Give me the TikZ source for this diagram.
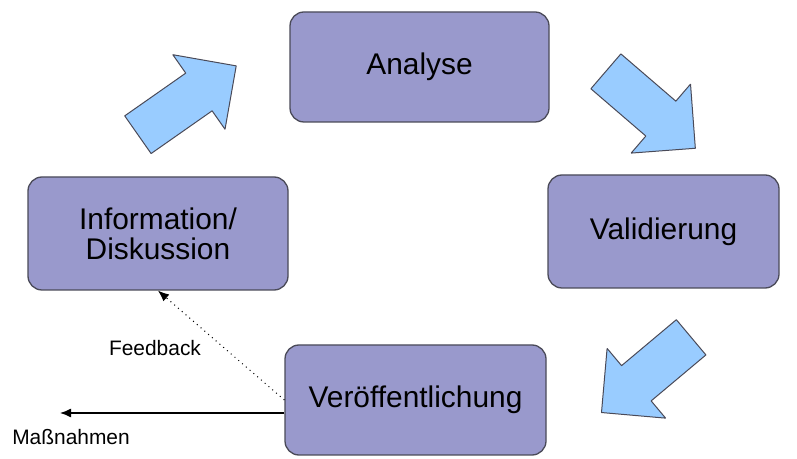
\documentclass[tikz,border=0pt]{standalone}
\usepackage{fontspec}
\setmainfont{Liberation Sans}
\usepackage{tikz}
\usetikzlibrary{arrows,arrows.meta,shapes}

\definecolor{boxfill}{HTML}{9999CC}
\definecolor{arrowfill}{HTML}{99CCFF}
\definecolor{edgecol}{HTML}{4A4A58}

\begin{document}
\begin{tikzpicture}[>={Latex[length=11bp,width=9bp]},line join=bevel,
    phase/.style={draw=edgecol,line width=1.3bp,fill=boxfill,rounded corners=14bp,align=center,font=\fontsize{30}{30}\selectfont},
    flow/.style={draw=edgecol,line width=1bp,fill=arrowfill,single arrow,inner sep=22.5bp,single arrow head extend=22.5bp},
    lbl/.style={font=\fontsize{21}{24}\selectfont}]
		%%
		\useasboundingbox (0bp,0bp) rectangle (797bp,459bp);
		\node (ana) at (419.5bp,392bp) [phase,minimum width=259bp,minimum height=110bp] {Analyse};
		  \node (val) at (663.5bp,227.5bp) [phase,minimum width=231bp,minimum height=113bp] {Validierung};
		  \node (pub) at (415.5bp,59bp) [phase,minimum width=261bp,minimum height=110bp] {Veröffentlichung};
		  \node (info) at (158bp,225.5bp) [phase,minimum width=260bp,minimum height=113bp] {Information/\\Diskussion};
		  % block arrows between the phases
		  \node (f1) at (137.5bp,324bp) [flow,anchor=tail,rotate=35,minimum height=120bp] {};
		  \node (f2) at (605.5bp,388bp) [flow,anchor=tail,rotate=-40.7,minimum height=118bp] {};
		  \node (f3) at (691.5bp,122bp) [flow,anchor=tail,rotate=220,minimum height=117bp] {};
		  % feedback and output
		  \draw [->,loosely dotted,line width=1bp] (pub.west) -- (info.south);
		  \node (fb) at (155bp,111bp) [lbl] {Feedback};
		  \coordinate (out) at (60bp,46bp);
		  \draw [->,line width=1.3bp] (pub.west |- out) -- (out);
		  \node (mass) at (71bp,22bp) [lbl] {Maßnahmen};
		%
	\end{tikzpicture}
\end{document}
